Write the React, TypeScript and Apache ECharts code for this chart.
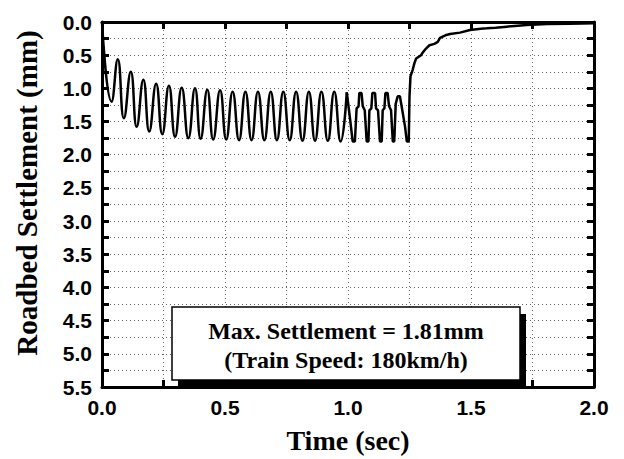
import React, { useEffect, useRef } from "react";
import * as echarts from "echarts";

// Oscillating part: [time (s), settlement (mm)]
const oscillation: [number, number][] = [
  [0, 0.0], [0.039, 1.2], [0.064, 0.56], [0.089, 1.45], [0.117, 0.75], [0.141, 1.58],
  [0.168, 0.87], [0.192, 1.65], [0.22, 0.93], [0.245, 1.69], [0.272, 0.96], [0.297, 1.73],
  [0.324, 0.99], [0.351, 1.75], [0.378, 1.0], [0.401, 1.76], [0.428, 1.02], [0.452, 1.77],
  [0.48, 1.03], [0.505, 1.77], [0.531, 1.05], [0.557, 1.78], [0.583, 1.05], [0.608, 1.78],
  [0.634, 1.05], [0.66, 1.78], [0.686, 1.05], [0.711, 1.78], [0.737, 1.05], [0.763, 1.78],
  [0.789, 1.05], [0.815, 1.79], [0.841, 1.05], [0.866, 1.79], [0.892, 1.05], [0.918, 1.79],
  [0.944, 1.05], [0.97, 1.8], [0.995, 1.06],
];

// Irregular part and recovery
const recovery: [number, number][] = [
  [0.995, 1.06], [1.008, 1.45], [1.019, 1.8], [1.028, 1.8], [1.035, 1.3], [1.043, 1.27],
  [1.046, 1.07], [1.055, 1.07], [1.06, 1.27], [1.068, 1.33], [1.076, 1.8], [1.083, 1.8],
  [1.087, 1.33], [1.095, 1.3], [1.099, 1.07], [1.11, 1.07], [1.114, 1.3], [1.122, 1.33],
  [1.13, 1.8], [1.137, 1.8], [1.141, 1.33], [1.148, 1.3], [1.152, 1.07], [1.161, 1.07],
  [1.167, 1.27], [1.175, 1.33], [1.182, 1.8], [1.188, 1.8], [1.194, 1.23], [1.202, 1.12],
  [1.211, 1.12], [1.218, 1.27], [1.232, 1.58], [1.239, 1.8], [1.247, 1.8], [1.249, 1.33],
  [1.25, 1.12], [1.254, 0.82], [1.263, 0.72], [1.27, 0.62], [1.277, 0.55], [1.297, 0.5],
  [1.304, 0.46], [1.317, 0.4], [1.331, 0.35], [1.351, 0.33], [1.365, 0.3], [1.374, 0.24],
  [1.396, 0.2], [1.415, 0.18], [1.455, 0.16], [1.496, 0.12], [1.54, 0.1], [1.564, 0.095],
  [1.6, 0.085], [1.645, 0.07], [1.69, 0.055], [1.726, 0.045], [1.81, 0.03], [1.9, 0.025],
  [2.0, 0.02],
];

const xTitle = "Time (sec)";
const yTitle = "Roadbed Settlement (mm)";
const noteLines = ["Max. Settlement = 1.81mm", "(Train Speed: 180km/h)"];

const SANS = "'Liberation Sans', Arial, sans-serif";
const SERIF = "'Liberation Serif', 'Times New Roman', serif";

const gridLine = { show: true, lineStyle: { type: [1, 3] as any, color: "#666", width: 1 } };
const tickStyle = { color: "#000", width: 3 };

function axisBase(extra: any) {
  return {
    type: "value",
    axisLine: { show: true, onZero: false, lineStyle: { color: "#000", width: 3 } },
    axisTick: { show: true, inside: true, length: 7, lineStyle: tickStyle },
    minorTick: { show: true, splitNumber: 2, length: 7, lineStyle: tickStyle },
    ...extra,
  };
}

export default function App() {
  const ref = useRef<HTMLDivElement>(null);
  useEffect(() => {
    if (!ref.current) return;
    const chart = echarts.init(ref.current, null, { renderer: "svg" });
    const label = {
      show: true,
      formatter: (v: number) => v.toFixed(1),
      fontSize: 21,
      fontWeight: "bold",
      fontFamily: SANS,
      color: "#000",
      margin: 10,
    };
    chart.setOption({
      animation: false,
      backgroundColor: "#fff",
      grid: { left: 102, right: 30, top: 22, bottom: 72, containLabel: false },
      xAxis: [
        axisBase({
          position: "bottom",
          min: 0,
          max: 2,
          interval: 0.5,
          axisLabel: label,
          splitLine: gridLine,
          minorSplitLine: gridLine,
        }),
        axisBase({
          position: "top",
          min: 0,
          max: 2,
          interval: 0.5,
          axisLabel: { show: false },
          splitLine: { show: false },
        }),
      ],
      yAxis: [
        axisBase({
          position: "left",
          inverse: true,
          min: 0,
          max: 5.5,
          interval: 0.5,
          axisLabel: label,
          splitLine: gridLine,
          minorSplitLine: gridLine,
        }),
        axisBase({
          position: "right",
          inverse: true,
          min: 0,
          max: 5.5,
          interval: 0.5,
          axisLabel: { show: false },
          splitLine: { show: false },
        }),
      ],
      series: [
        {
          type: "line",
          data: oscillation,
          smooth: 0.5,
          showSymbol: false,
          lineStyle: { color: "#000", width: 2.5 },
          xAxisIndex: 0,
          yAxisIndex: 0,
        },
        {
          type: "line",
          data: recovery,
          showSymbol: false,
          lineStyle: { color: "#000", width: 2.5 },
          xAxisIndex: 0,
          yAxisIndex: 0,
        },
      ],
      graphic: [
        {
          type: "text",
          x: 348,
          y: 440,
          style: {
            text: xTitle,
            font: `bold 28px ${SERIF}`,
            fill: "#000",
            textAlign: "center",
            textVerticalAlign: "middle",
          },
        },
        {
          type: "text",
          x: 27,
          y: 193,
          rotation: Math.PI / 2,
          style: {
            text: yTitle,
            font: `bold 29px ${SERIF}`,
            fill: "#000",
            textAlign: "center",
            textVerticalAlign: "middle",
          },
        },
        {
          type: "rect",
          z: 100,
          shape: { x: 178, y: 314, width: 348, height: 73 },
          style: { fill: "#000" },
        },
        {
          type: "rect",
          z: 101,
          shape: { x: 172, y: 307, width: 348, height: 73 },
          style: { fill: "#fff", stroke: "#000", lineWidth: 1.5 },
        },
        {
          type: "text",
          z: 102,
          x: 346,
          y: 331,
          style: {
            text: noteLines[0],
            font: `bold 24px ${SERIF}`,
            fill: "#000",
            textAlign: "center",
            textVerticalAlign: "middle",
          },
        },
        {
          type: "text",
          z: 102,
          x: 346,
          y: 360,
          style: {
            text: noteLines[1],
            font: `bold 24px ${SERIF}`,
            fill: "#000",
            textAlign: "center",
            textVerticalAlign: "middle",
          },
        },
      ],
    });
    return () => chart.dispose();
  }, []);
  return (
    <div
      ref={ref}
      style={{ position: "fixed", left: 0, top: 0, width: 624, height: 459, background: "#fff" }}
    />
  );
}
